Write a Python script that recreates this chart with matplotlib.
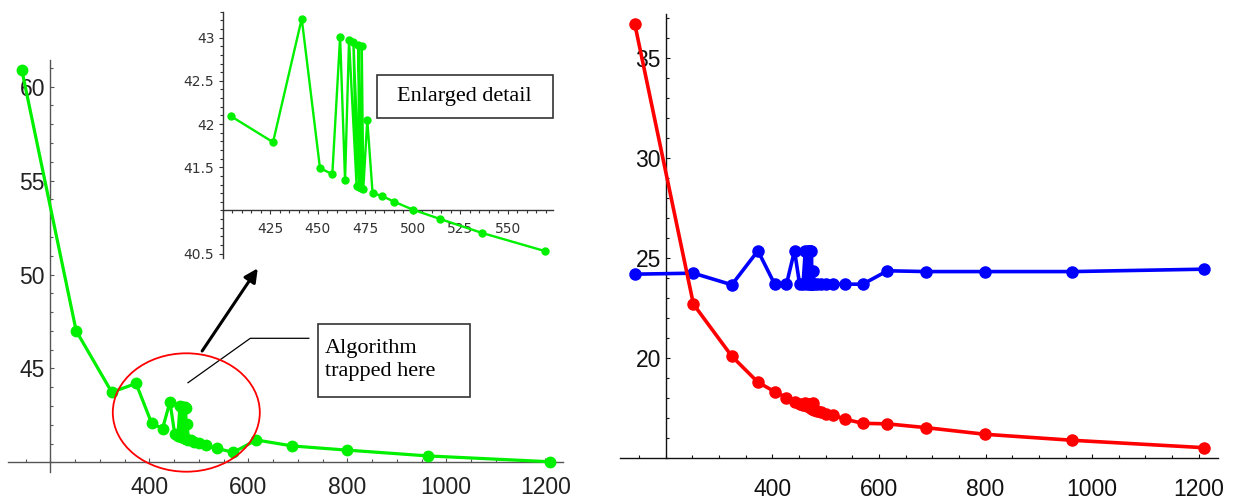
import matplotlib.pyplot as plt
from matplotlib.ticker import MultipleLocator, FixedLocator, FixedFormatter
from matplotlib.patches import Ellipse, Rectangle, FancyArrowPatch
from matplotlib.lines import Line2D

# shared x positions of the runs
x_vals = [142, 252, 324, 373, 404.4, 426.5, 441.6, 451.2, 457.7, 461.8,
          464.4, 466.5, 470.5, 468.8, 471.9, 471.4, 473.0, 473.2, 474.0, 476.1,
          478.9, 483.6, 490.4, 500.0, 514.6, 536.5, 569.6, 616, 689, 799,
          963, 1210]
green_vals = [60.9, 47.0, 43.73, 44.2, 42.09, 41.79, 43.22, 41.49, 41.42, 43.01,
              41.35, 42.97, 41.28, 42.95, 41.27, 42.92, 41.26, 42.90, 41.25, 42.05,
              41.20, 41.17, 41.10, 41.01, 40.90, 40.74, 40.53, 41.19, 40.87, 40.65,
              40.34, 40.03]
blue_vals = [24.2, 24.25, 23.67, 25.37, 23.7, 23.7, 25.37, 23.7, 23.7, 25.37,
             23.7, 25.37, 23.7, 25.37, 23.7, 25.37, 23.7, 25.37, 23.7, 24.35,
             23.7, 23.7, 23.7, 23.7, 23.7, 23.7, 23.7, 24.37, 24.33, 24.33,
             24.33, 24.45]
red_vals = [36.7, 22.7, 20.1, 18.8, 18.33, 18.03, 17.83, 17.72, 17.66, 17.75,
            17.6, 17.7, 17.55, 17.7, 17.52, 17.66, 17.5, 17.64, 17.48, 17.78,
            17.42, 17.36, 17.3, 17.22, 17.15, 16.95, 16.75, 16.72, 16.53, 16.2,
            15.9, 15.53]

main_xticks = [400, 600, 800, 1000, 1200]
left_yticks = [45, 50, 55, 60]
right_yticks = [20, 25, 30, 35]
inset_xticks = [425, 450, 475, 500, 525, 550]
inset_yticks = [40.5, 41.5, 42, 42.5, 43]
inset_ylabels = ['40.5', '41.5', '42', '42.5', '43']
inset_range = slice(4, 27)

W, H = 1239, 501
fig = plt.figure(figsize=(W / 100, H / 100), dpi=100)


def fpx(x, y):
    # pixel position -> figure fraction
    return x / W, 1 - y / H


def axes_at(x0, y0, x1, y1):
    return fig.add_axes([x0 / W, 1 - y1 / H, (x1 - x0) / W, (y1 - y0) / H])


def style_axes(ax, x0, y0, color, major_len, minor_len):
    ax.set_facecolor('none')
    for s in ['top', 'right']:
        ax.spines[s].set_visible(False)
    ax.spines['left'].set_position(('data', x0))
    ax.spines['bottom'].set_position(('data', y0))
    for s in ['left', 'bottom']:
        ax.spines[s].set_color(color)
        ax.spines[s].set_linewidth(1.0)
    ax.tick_params(which='both', color=color, width=0.8)
    ax.tick_params(which='major', length=major_len)
    ax.tick_params(which='minor', length=minor_len)


main_font = {'family': 'Liberation Sans', 'size': 16.5}

# left panel
ax1 = axes_at(8.4, 60.4, 563, 471.7)
ax1.plot(x_vals, green_vals, color='#00f000', lw=2.3, marker='o', ms=7.5,
         clip_on=False, zorder=3)
ax1.set_xlim(115, 1236)
ax1.set_ylim(39.5, 61.4)
style_axes(ax1, 200, 40, '#555555', 3, 2.2)
ax1.xaxis.set_major_locator(FixedLocator(main_xticks))
ax1.xaxis.set_minor_locator(MultipleLocator(50))
ax1.yaxis.set_major_locator(FixedLocator(left_yticks))
ax1.yaxis.set_minor_locator(MultipleLocator(1))
ax1.tick_params(which='both', direction='in')
ax1.tick_params(axis='x', pad=10)
ax1.tick_params(axis='y', pad=4)
for lab in ax1.get_xticklabels() + ax1.get_yticklabels():
    lab.set_fontfamily(main_font['family'])
    lab.set_fontsize(main_font['size'])
    lab.set_color('#222222')

# right panel
ax2 = axes_at(620.4, 14, 1218, 458.3)
ax2.plot(x_vals, blue_vals, color='#0000ff', lw=2.6, marker='o', ms=8,
         clip_on=False, zorder=3)
ax2.plot(x_vals, red_vals, color='#ff0000', lw=2.6, marker='o', ms=8,
         clip_on=False, zorder=3)
ax2.set_xlim(115, 1236)
ax2.set_ylim(15, 37.2)
style_axes(ax2, 200, 15, '#111111', 3, 2.2)
ax2.xaxis.set_major_locator(FixedLocator(main_xticks))
ax2.xaxis.set_minor_locator(MultipleLocator(50))
ax2.yaxis.set_major_locator(FixedLocator(right_yticks))
ax2.yaxis.set_minor_locator(MultipleLocator(1))
ax2.tick_params(which='both', direction='in')
ax2.tick_params(axis='x', pad=14)
ax2.tick_params(axis='y', pad=3.5)
for lab in ax2.get_xticklabels() + ax2.get_yticklabels():
    lab.set_fontfamily(main_font['family'])
    lab.set_fontsize(main_font['size'])
    lab.set_color('#111111')

# inset with the enlarged region
ax3 = axes_at(222.7, 11.7, 552.7, 258)
ax3.plot(x_vals[inset_range], green_vals[inset_range], color='#00f000', lw=1.7,
         marker='o', ms=5, clip_on=False, zorder=3)
ax3.set_xlim(400, 573.7)
ax3.set_ylim(40.45, 43.3)
style_axes(ax3, 400, 41, '#333333', 3, 2)
ax3.xaxis.set_major_locator(FixedLocator(inset_xticks))
ax3.xaxis.set_minor_locator(MultipleLocator(5))
ax3.yaxis.set_major_locator(FixedLocator(inset_yticks))
ax3.yaxis.set_major_formatter(FixedFormatter(inset_ylabels))
ax3.yaxis.set_minor_locator(MultipleLocator(0.1))
ax3.tick_params(which='both', direction='out')
ax3.tick_params(axis='x', pad=5)
ax3.tick_params(axis='y', pad=3)
for lab in ax3.get_xticklabels() + ax3.get_yticklabels():
    lab.set_fontfamily('DejaVu Sans')
    lab.set_fontsize(10)
    lab.set_color('#333333')

# annotations
serif = 'Liberation Serif'

box1 = Rectangle(fpx(376.7, 118.3), 176 / W, 43.3 / H, transform=fig.transFigure,
                 facecolor='white', edgecolor='#333333', lw=1.2, zorder=5)
fig.patches.append(box1)
fig.text(*fpx(464.7, 97), 'Enlarged detail', family=serif, fontsize=16,
         ha='center', va='center', zorder=6)

box2 = Rectangle(fpx(318.3, 396.7), 151.7 / W, 72.7 / H, transform=fig.transFigure,
                 facecolor='white', edgecolor='#333333', lw=1.2, zorder=5)
fig.patches.append(box2)
fig.text(*fpx(325, 360), 'Algorithm\ntrapped here', family=serif, fontsize=16,
         ha='left', va='center', linespacing=1.25, zorder=6)

pointer = Line2D([308.8 / W, 250.3 / W, 188 / W],
                 [1 - 338.3 / H, 1 - 338.3 / H, 1 - 382.7 / H],
                 transform=fig.transFigure, color='black', lw=0.9)
fig.lines.append(pointer)

ring = Ellipse(fpx(186.3, 412.5), 147 / W, 118.4 / H, transform=fig.transFigure,
               fill=False, edgecolor='#ff0000', lw=1.3, zorder=4)
fig.patches.append(ring)

arrow = FancyArrowPatch(fpx(200.6, 353.3), fpx(259.3, 266), transform=fig.transFigure,
                        arrowstyle='-|>,head_length=8,head_width=4', color='black',
                        lw=2.2, mutation_scale=1, zorder=4)
fig.patches.append(arrow)

fig.savefig('out.png', dpi=100)
